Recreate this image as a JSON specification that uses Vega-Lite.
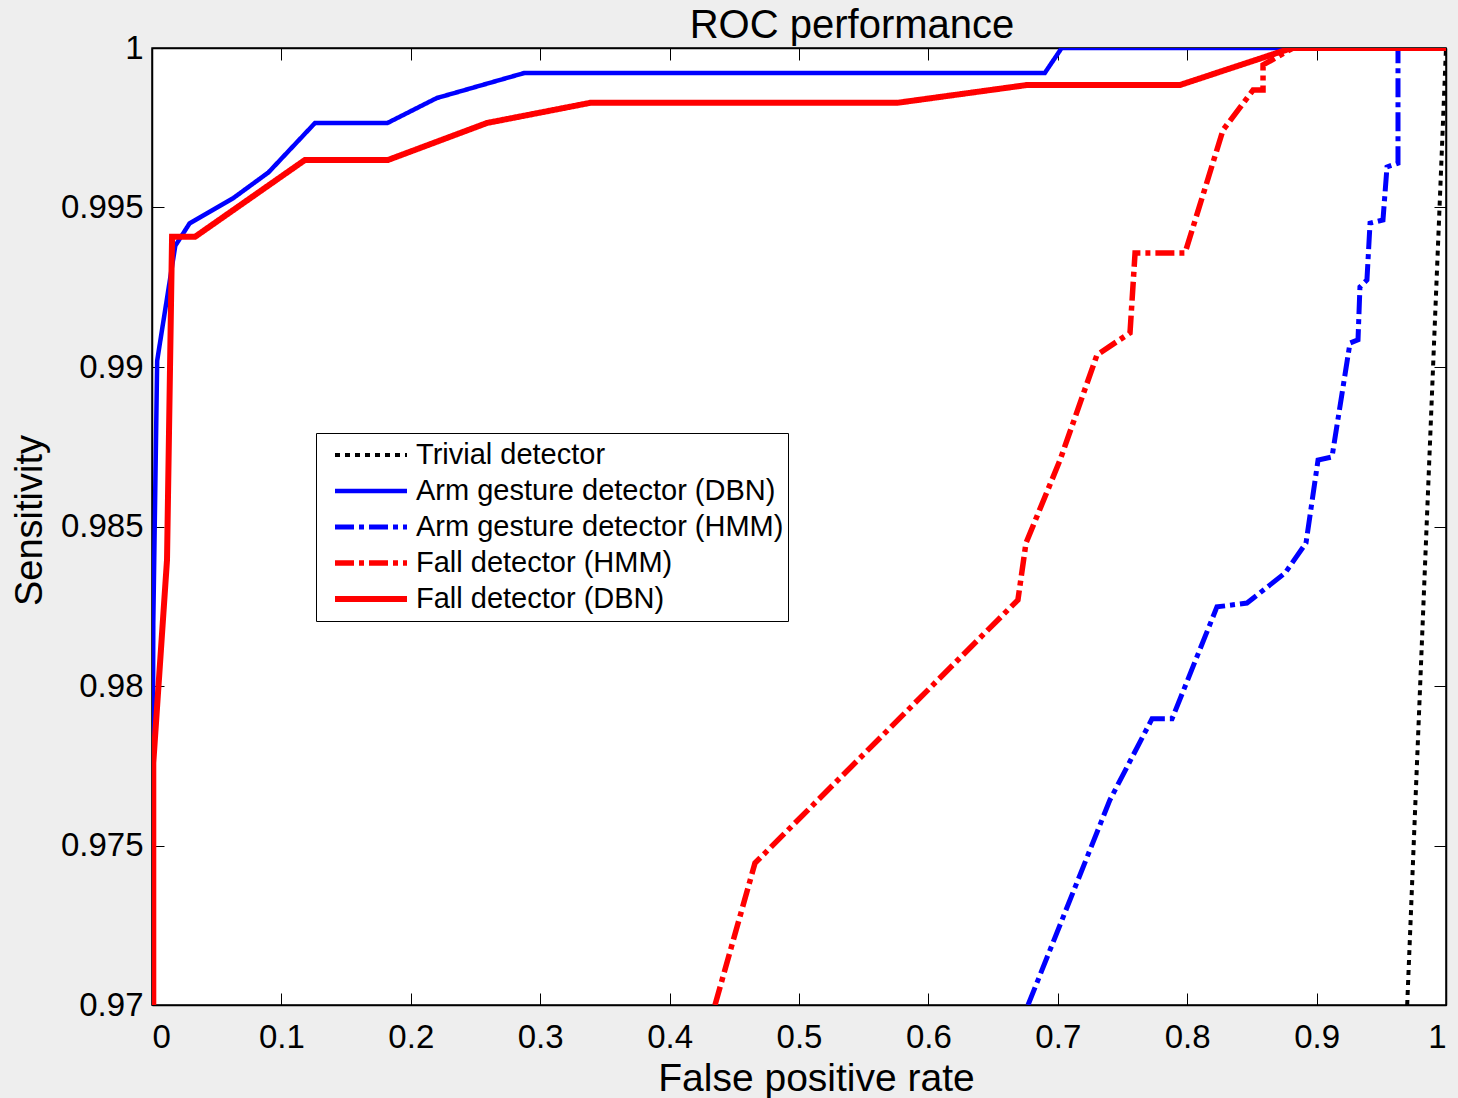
{
  "$schema": "https://vega.github.io/schema/vega-lite/v6.json",
  "autosize": "none",
  "width": 1294,
  "height": 957,
  "padding": {"left": 152, "top": 48, "right": 12, "bottom": 93},
  "background": "#eeeeee",
  "title": {"text": "ROC performance", "fontSize": 40, "font": "Liberation Sans", "fontWeight": "normal", "color": "black", "anchor": "middle", "dx": 53, "dy": 55, "baseline": "alphabetic", "offset": 9},
  "data": {"values": [
    {"series": "Trivial detector", "i": 0, "fpr": 0.97, "sens": 0.97},
    {"series": "Trivial detector", "i": 1, "fpr": 1.0, "sens": 1.0},

    {"series": "Arm gesture detector (DBN)", "i": 0, "fpr": 0.0, "sens": 0.97},
    {"series": "Arm gesture detector (DBN)", "i": 1, "fpr": 0.001, "sens": 0.982},
    {"series": "Arm gesture detector (DBN)", "i": 2, "fpr": 0.004, "sens": 0.9902},
    {"series": "Arm gesture detector (DBN)", "i": 3, "fpr": 0.018, "sens": 0.9938},
    {"series": "Arm gesture detector (DBN)", "i": 4, "fpr": 0.029, "sens": 0.9945},
    {"series": "Arm gesture detector (DBN)", "i": 5, "fpr": 0.063, "sens": 0.9953},
    {"series": "Arm gesture detector (DBN)", "i": 6, "fpr": 0.090, "sens": 0.9961},
    {"series": "Arm gesture detector (DBN)", "i": 7, "fpr": 0.126, "sens": 0.99765},
    {"series": "Arm gesture detector (DBN)", "i": 8, "fpr": 0.182, "sens": 0.99765},
    {"series": "Arm gesture detector (DBN)", "i": 9, "fpr": 0.220, "sens": 0.99843},
    {"series": "Arm gesture detector (DBN)", "i": 10, "fpr": 0.288, "sens": 0.99922},
    {"series": "Arm gesture detector (DBN)", "i": 11, "fpr": 0.690, "sens": 0.99922},
    {"series": "Arm gesture detector (DBN)", "i": 12, "fpr": 0.703, "sens": 1.0},
    {"series": "Arm gesture detector (DBN)", "i": 13, "fpr": 1.0, "sens": 1.0},

    {"series": "Arm gesture detector (HMM)", "i": 0, "fpr": 0.677, "sens": 0.97},
    {"series": "Arm gesture detector (HMM)", "i": 1, "fpr": 0.7403, "sens": 0.97643},
    {"series": "Arm gesture detector (HMM)", "i": 2, "fpr": 0.7728, "sens": 0.97897},
    {"series": "Arm gesture detector (HMM)", "i": 3, "fpr": 0.7883, "sens": 0.97897},
    {"series": "Arm gesture detector (HMM)", "i": 4, "fpr": 0.8230, "sens": 0.98248},
    {"series": "Arm gesture detector (HMM)", "i": 5, "fpr": 0.8462, "sens": 0.98260},
    {"series": "Arm gesture detector (HMM)", "i": 6, "fpr": 0.8756, "sens": 0.98354},
    {"series": "Arm gesture detector (HMM)", "i": 7, "fpr": 0.8918, "sens": 0.98448},
    {"series": "Arm gesture detector (HMM)", "i": 8, "fpr": 0.9011, "sens": 0.98708},
    {"series": "Arm gesture detector (HMM)", "i": 9, "fpr": 0.9119, "sens": 0.98718},
    {"series": "Arm gesture detector (HMM)", "i": 10, "fpr": 0.9258, "sens": 0.99075},
    {"series": "Arm gesture detector (HMM)", "i": 11, "fpr": 0.9320, "sens": 0.99085},
    {"series": "Arm gesture detector (HMM)", "i": 12, "fpr": 0.9335, "sens": 0.99251},
    {"series": "Arm gesture detector (HMM)", "i": 13, "fpr": 0.9389, "sens": 0.99273},
    {"series": "Arm gesture detector (HMM)", "i": 14, "fpr": 0.9413, "sens": 0.99451},
    {"series": "Arm gesture detector (HMM)", "i": 15, "fpr": 0.9513, "sens": 0.99461},
    {"series": "Arm gesture detector (HMM)", "i": 16, "fpr": 0.9544, "sens": 0.99627},
    {"series": "Arm gesture detector (HMM)", "i": 17, "fpr": 0.9629, "sens": 0.99639},
    {"series": "Arm gesture detector (HMM)", "i": 18, "fpr": 0.9629, "sens": 1.0},
    {"series": "Arm gesture detector (HMM)", "i": 19, "fpr": 1.0, "sens": 1.0},

    {"series": "Fall detector (HMM)", "i": 0, "fpr": 0.4351, "sens": 0.97},
    {"series": "Fall detector (HMM)", "i": 1, "fpr": 0.4660, "sens": 0.97445},
    {"series": "Fall detector (HMM)", "i": 2, "fpr": 0.6692, "sens": 0.98270},
    {"series": "Fall detector (HMM)", "i": 3, "fpr": 0.6754, "sens": 0.98448},
    {"series": "Fall detector (HMM)", "i": 4, "fpr": 0.7017, "sens": 0.98708},
    {"series": "Fall detector (HMM)", "i": 5, "fpr": 0.7303, "sens": 0.99038},
    {"series": "Fall detector (HMM)", "i": 6, "fpr": 0.7558, "sens": 0.99107},
    {"series": "Fall detector (HMM)", "i": 7, "fpr": 0.7597, "sens": 0.99357},
    {"series": "Fall detector (HMM)", "i": 8, "fpr": 0.7983, "sens": 0.99357},
    {"series": "Fall detector (HMM)", "i": 9, "fpr": 0.8277, "sens": 0.99743},
    {"series": "Fall detector (HMM)", "i": 10, "fpr": 0.8509, "sens": 0.99868},
    {"series": "Fall detector (HMM)", "i": 11, "fpr": 0.8586, "sens": 0.99868},
    {"series": "Fall detector (HMM)", "i": 12, "fpr": 0.8586, "sens": 0.99947},
    {"series": "Fall detector (HMM)", "i": 13, "fpr": 0.8818, "sens": 1.0},
    {"series": "Fall detector (HMM)", "i": 14, "fpr": 1.0, "sens": 1.0},

    {"series": "Fall detector (DBN)", "i": 0, "fpr": 0.001, "sens": 0.97},
    {"series": "Fall detector (DBN)", "i": 1, "fpr": 0.001, "sens": 0.97759},
    {"series": "Fall detector (DBN)", "i": 2, "fpr": 0.0116, "sens": 0.98395},
    {"series": "Fall detector (DBN)", "i": 3, "fpr": 0.0155, "sens": 0.99408},
    {"series": "Fall detector (DBN)", "i": 4, "fpr": 0.0332, "sens": 0.99408},
    {"series": "Fall detector (DBN)", "i": 5, "fpr": 0.1182, "sens": 0.99649},
    {"series": "Fall detector (DBN)", "i": 6, "fpr": 0.1824, "sens": 0.99649},
    {"series": "Fall detector (DBN)", "i": 7, "fpr": 0.2589, "sens": 0.99765},
    {"series": "Fall detector (DBN)", "i": 8, "fpr": 0.3385, "sens": 0.99828},
    {"series": "Fall detector (DBN)", "i": 9, "fpr": 0.5757, "sens": 0.99828},
    {"series": "Fall detector (DBN)", "i": 10, "fpr": 0.6762, "sens": 0.99884},
    {"series": "Fall detector (DBN)", "i": 11, "fpr": 0.7944, "sens": 0.99884},
    {"series": "Fall detector (DBN)", "i": 12, "fpr": 0.8810, "sens": 1.0},
    {"series": "Fall detector (DBN)", "i": 13, "fpr": 1.0, "sens": 1.0}
  ]},
  "layer": [
    {
      "mark": {"type": "line", "strokeCap": "butt", "strokeJoin": "miter", "clip": true},
      "encoding": {
        "x": {"field": "fpr", "type": "quantitative",
          "scale": {"domain": [0, 1], "nice": false, "zero": false},
          "axis": {"orient": "bottom", "values": [0, 0.1, 0.2, 0.3, 0.4, 0.5, 0.6, 0.7, 0.8, 0.9, 1], "format": "~g",
            "title": "False positive rate", "titleX": 664, "titleY": 85, "titleBaseline": "alphabetic", "titleAlign": "center", "titleAnchor": null, "titleFontSize": 39}},
        "y": {"field": "sens", "type": "quantitative",
          "scale": {"domain": [0.97, 1], "nice": false, "zero": false},
          "axis": {"orient": "left", "values": [0.97, 0.975, 0.98, 0.985, 0.99, 0.995, 1], "format": "~g",
            "title": "Sensitivity", "titleX": -111, "titleY": 472, "titleAngle": -90, "titleBaseline": "alphabetic", "titleAlign": "center", "titleAnchor": null}},
        "color": {"field": "series", "type": "nominal",
          "scale": {"domain": ["Trivial detector", "Arm gesture detector (DBN)", "Arm gesture detector (HMM)", "Fall detector (HMM)", "Fall detector (DBN)"],
                    "range": ["#000000", "#0000ff", "#0000ff", "#ff0000", "#ff0000"]},
          "legend": {"title": null}},
        "strokeDash": {"field": "series", "type": "nominal",
          "scale": {"domain": ["Trivial detector", "Arm gesture detector (DBN)", "Arm gesture detector (HMM)", "Fall detector (HMM)", "Fall detector (DBN)"],
                    "range": [[5, 5], [1, 0], [19, 5, 5, 5], [19, 5, 5, 5], [1, 0]]},
          "legend": {"title": null}},
        "strokeWidth": {"field": "series", "type": "nominal",
          "scale": {"domain": ["Trivial detector", "Arm gesture detector (DBN)", "Arm gesture detector (HMM)", "Fall detector (HMM)", "Fall detector (DBN)"],
                    "range": [4, 6, 6, 6, 6]},
          "legend": null},
        "order": {"field": "i", "type": "quantitative"}
      }
    },
    {
      "mark": {"type": "point", "opacity": 0},
      "encoding": {
        "x": {"field": "fpr", "type": "quantitative",
          "axis": {"orient": "top", "values": [0, 0.1, 0.2, 0.3, 0.4, 0.5, 0.6, 0.7, 0.8, 0.9, 1], "labels": false, "title": null, "minExtent": 0, "maxExtent": 0}},
        "y": {"field": "sens", "type": "quantitative",
          "axis": {"orient": "right", "values": [0.97, 0.975, 0.98, 0.985, 0.99, 0.995, 1], "labels": false, "title": null, "minExtent": 0, "maxExtent": 0}}
      }
    }
  ],
  "resolve": {"axis": {"x": "independent", "y": "independent"}},
  "config": {
    "font": "Liberation Sans",
    "view": {"fill": "white", "stroke": "black", "strokeWidth": 1.5},
    "axis": {
      "grid": false,
      "domainColor": "black", "domainWidth": 1.5,
      "tickColor": "black", "tickWidth": 1, "tickSize": -12,
      "labelFont": "Liberation Sans", "labelFontSize": 33, "labelColor": "black",
      "titleFont": "Liberation Sans", "titleFontSize": 38, "titleFontWeight": "normal", "titleColor": "black"
    },
    "axisBottom": {"labelPadding": 28},
    "axisLeft": {"labelPadding": 21},
    "legend": {
      "orient": "none", "legendX": 164, "legendY": 385,
      "fillColor": "white", "strokeColor": "black", "strokeWidth": 1,
      "padding": 4, "rowPadding": 0, "clipHeight": 36,
      "symbolType": "stroke", "symbolSize": 5184, "symbolStrokeWidth": 5, "symbolOffset": 12,
      "labelFont": "Liberation Sans", "labelFontSize": 29, "labelColor": "black", "labelOffset": 6, "labelLimit": 0
    }
  }
}
